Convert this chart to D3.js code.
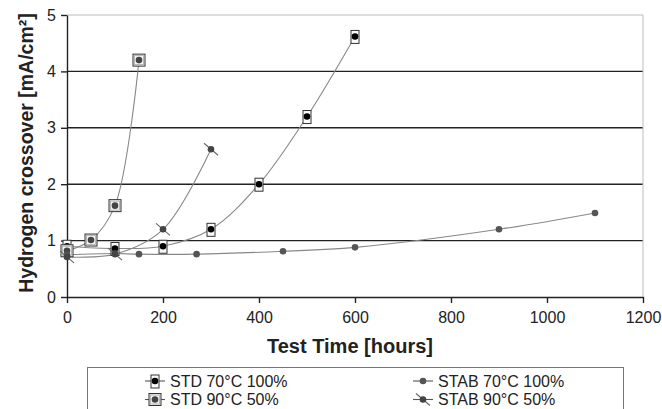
<!DOCTYPE html>
<html>
<head>
<meta charset="utf-8">
<script src="https://cdn.jsdelivr.net/npm/d3@7"></script>
<style>
  body { margin: 0; background: #fff; }
  text { font-family: "Liberation Sans", Arial, sans-serif; fill: #222; }
</style>
</head>
<body>
<div id="chart"></div>
<script>
// hours / crossover values
var std70Hours = [0, 100, 200, 300, 400, 500, 600];
var std70Values = [0.9, 0.86, 0.9, 1.2, 2.0, 3.2, 4.62];
var std90Hours = [0, 50, 100, 150];
var std90Values = [0.82, 1.01, 1.62, 4.2];
var stab70Hours = [0, 100, 150, 270, 450, 600, 900, 1100];
var stab70Values = [0.75, 0.77, 0.76, 0.76, 0.81, 0.88, 1.2, 1.49];
var stab90Hours = [0, 100, 200, 300];
var stab90Values = [0.71, 0.76, 1.2, 2.62];

var xTicks = [0, 200, 400, 600, 800, 1000, 1200];
var yTicks = [0, 1, 2, 3, 4, 5];

var w = 662, h = 409;

var svg = d3.select("#chart")
  .append("svg")
  .attr("width", w)
  .attr("height", h);

var x = d3.scaleLinear().domain([0, 1200]).range([67, 643]);
var y = d3.scaleLinear().domain([0, 5]).range([297, 15]);

function pairs(xs, ys) {
  return xs.map(function(d, i) { return { x: d, y: ys[i] }; });
}

var series = [
  { name: "STD 70°C 100%", data: pairs(std70Hours, std70Values), marker: "rect" },
  { name: "STD 90°C 50%", data: pairs(std90Hours, std90Values), marker: "square" },
  { name: "STAB 70°C 100%", data: pairs(stab70Hours, stab70Values), marker: "dot" },
  { name: "STAB 90°C 50%", data: pairs(stab90Hours, stab90Values), marker: "slash" }
];

// grid
svg.append("g")
  .selectAll("line")
  .data(yTicks.filter(function(d) { return d > 0; }))
  .enter()
    .append("line")
    .attr("x1", x(0))
    .attr("x2", x(1200))
    .attr("y1", function(d) { return y(d); })
    .attr("y2", function(d) { return y(d); })
    .style("stroke", function(d) { return d == 5 ? "#bbb" : "#222"; })
    .style("stroke-width", function(d) { return d == 5 ? 1 : 1.4; });

svg.append("line")
  .attr("x1", x(1200)).attr("x2", x(1200))
  .attr("y1", y(5)).attr("y2", y(0))
  .style("stroke", "#bbb");

// axes
var yAxis = svg.append("g")
  .attr("transform", "translate(" + x(0) + ",0)")
  .call(d3.axisLeft(y).tickValues(yTicks).tickSize(6).tickSizeOuter(0).tickFormat(d3.format("d")));

var xAxis = svg.append("g")
  .attr("transform", "translate(0," + y(0) + ")")
  .call(d3.axisBottom(x).tickValues(xTicks).tickSize(6).tickSizeOuter(0).tickFormat(d3.format("d")));

[xAxis, yAxis].forEach(function(a) {
  a.attr("font-family", null).attr("font-size", null);
  a.selectAll("path, line").style("stroke", "#222").style("stroke-width", 1.4);
  a.selectAll("text").style("font-size", "16px").style("fill", "#222");
});
yAxis.selectAll("text").attr("x", -11);
xAxis.selectAll("text").attr("y", 15);

svg.append("text")
  .attr("transform", "translate(33,153) rotate(-90)")
  .attr("text-anchor", "middle")
  .style("font-size", "19.5px")
  .style("font-weight", "bold")
  .text("Hydrogen crossover [mA/cm²]");

svg.append("text")
  .attr("x", 350)
  .attr("y", 353)
  .attr("text-anchor", "middle")
  .style("font-size", "20px")
  .style("font-weight", "bold")
  .text("Test Time [hours]");

// lines
var line = d3.line()
  .x(function(d) { return x(d.x); })
  .y(function(d) { return y(d.y); })
  .curve(d3.curveCatmullRom.alpha(0.5));

svg.append("g")
  .selectAll("path")
  .data(series)
  .enter()
    .append("path")
    .attr("d", function(d) { return line(d.data); })
    .style("fill", "none")
    .style("stroke", "#888")
    .style("stroke-width", 1.1);

function drawMarker(g, type) {
  if (type == "rect") {
    g.append("rect").attr("x", -4).attr("y", -6).attr("width", 8).attr("height", 13)
      .style("fill", "#fafafa").style("stroke", "#333").style("stroke-width", 1);
    g.append("circle").attr("r", 3.3).style("fill", "#000");
  } else if (type == "square") {
    g.append("rect").attr("x", -6).attr("y", -6).attr("width", 12).attr("height", 12)
      .style("fill", "#f4f4f4").style("stroke", "#333").style("stroke-width", 1);
    g.append("rect").attr("x", -4.5).attr("y", -4.5).attr("width", 9).attr("height", 9)
      .style("fill", "none").style("stroke", "#aaa").style("stroke-width", 0.8);
    g.append("circle").attr("r", 3.3).style("fill", "#444");
  } else if (type == "dot") {
    g.append("circle").attr("r", 3.3).style("fill", "#555");
  } else {
    g.append("line").attr("x1", -7).attr("y1", -6).attr("x2", 7).attr("y2", 6)
      .style("stroke", "#666").style("stroke-width", 1.1);
    g.append("circle").attr("r", 3.3).style("fill", "#444");
  }
}

series.forEach(function(s) {
  svg.append("g")
    .selectAll("g")
    .data(s.data)
    .enter()
      .append("g")
      .attr("transform", function(d) { return "translate(" + x(d.x) + "," + y(d.y) + ")"; })
      .each(function() { drawMarker(d3.select(this), s.marker); });
});

// legend
svg.append("rect")
  .attr("x", 87.5).attr("y", 367.5)
  .attr("width", 536).attr("height", 60)
  .style("fill", "#fff")
  .style("stroke", "#777");

var legendPos = [[155, 381], [155, 399.5], [423, 381], [423, 399.5]];

var legend = svg.append("g")
  .selectAll("g")
  .data(series)
  .enter()
    .append("g")
    .attr("transform", function(d, i) { return "translate(" + legendPos[i][0] + "," + legendPos[i][1] + ")"; });

legend.append("line")
  .attr("x1", -10).attr("x2", 10)
  .style("stroke", "#555").style("stroke-width", 1.1);

legend.each(function(d) { drawMarker(d3.select(this), d.marker); });

legend.append("text")
  .attr("x", 15)
  .attr("y", 5.5)
  .style("font-size", "16px")
  .text(function(d) { return d.name; });
</script>
</body>
</html>
